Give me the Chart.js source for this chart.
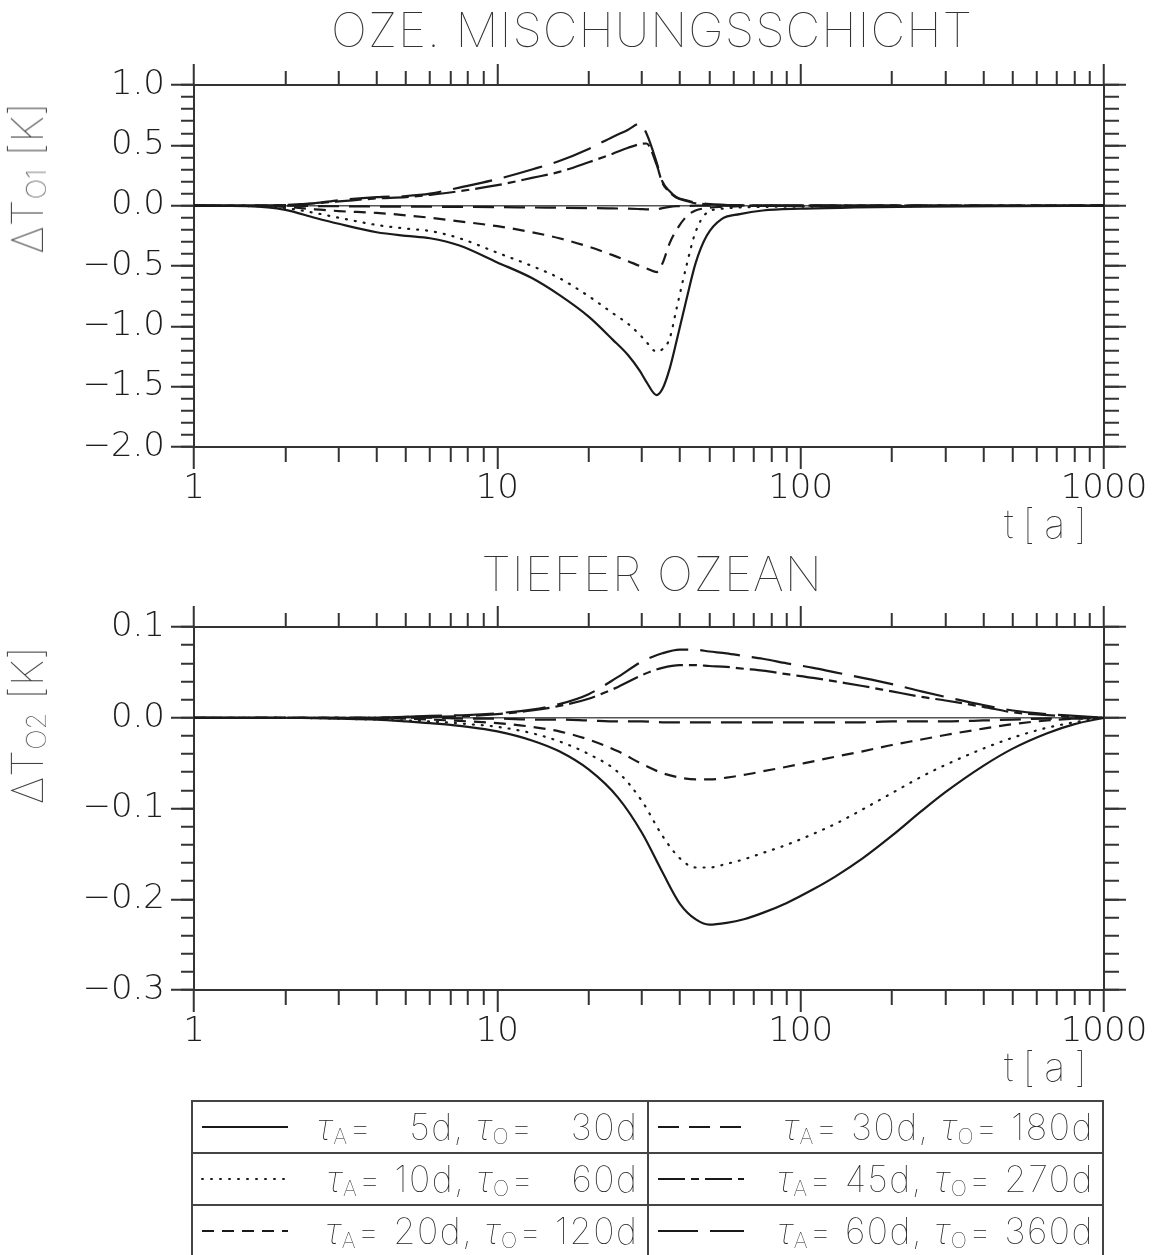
<!DOCTYPE html>
<html>
<head>
<meta charset="utf-8">
<script src="https://cdn.jsdelivr.net/npm/chart.js@4.4.1/dist/chart.umd.min.js"></script>
<style>
  body { margin: 0; background: #fff; }
  #page { position: relative; width: 1158px; height: 1255px; overflow: hidden;
          font-family: Inter, "DejaVu Sans", sans-serif; color: #333; }
  canvas { position: absolute; left: 0; }
  .txt { will-change: transform; -webkit-font-smoothing: antialiased; }
  .title { position: absolute; font-size: 48px; line-height: 48px; font-weight: 100;
           letter-spacing: 1px; white-space: nowrap; transform: translateX(-50%); }
  .ytitle { position: absolute; font-size: 44px; line-height: 44px; font-weight: 100;
            white-space: nowrap; transform: translate(-50%, -50%) rotate(-90deg); }
  .ytitle sub { font-size: 0.62em; vertical-align: -0.12em; }
  .xunit { position: absolute; font-size: 40px; line-height: 40px; font-weight: 100;
           letter-spacing: 9px; white-space: nowrap; }
  table.legend { position: absolute; left: 191px; top: 1100px; width: 913px;
                 border-collapse: collapse; table-layout: fixed; }
  table.legend td { border: 2px solid #444; height: 50px; padding: 0 8px 0 8px; }
  .cell { display: flex; align-items: center; justify-content: space-between;
          font-size: 36px; font-weight: 100; letter-spacing: 1.5px; white-space: pre; color: #222; }
  .cell i { font-style: italic; }
  .cell sub { font-size: 0.6em; vertical-align: -0.2em; }
</style>
</head>
<body>
<div id="page">
  <canvas id="mixed" width="1158" height="560" style="top:0"></canvas>
  <canvas id="deep" width="1158" height="560" style="top:540px"></canvas>
  <div class="title txt" style="left:652px; top:6px">OZE. MISCHUNGSSCHICHT</div>
  <div class="title txt" style="left:652px; top:550px">TIEFER OZEAN</div>
  <div class="ytitle txt" style="left:32px; top:178px">ΔT<sub>O1</sub> [K]</div>
  <div class="ytitle txt" style="left:32px; top:725px">ΔT<sub>O2</sub> [K]</div>
  <div class="xunit txt" style="left:1004px; top:504px">t[a]</div>
  <div class="xunit txt" style="left:1004px; top:1047px">t[a]</div>
  <table class="legend txt"><tbody id="legend"></tbody></table>
</div>
<script>
// time axis (years) for the mixed layer panel
const tMixed = [1, 1.5, 2, 2.5, 3, 4, 5, 6, 7.5, 10, 13, 16, 20, 24, 27, 29.5,
                31, 33.5, 35, 37, 39, 42, 45, 49, 55, 63, 75, 100, 150, 250, 500, 1000];
const mixedTau5 = [0, -0.005, -0.035, -0.10, -0.15, -0.22, -0.25, -0.27, -0.33, -0.47, -0.60, -0.74, -0.92, -1.11, -1.24, -1.37,
                   -1.46, -1.57, -1.52, -1.35, -1.12, -0.78, -0.48, -0.25, -0.11, -0.07, -0.04, -0.025, -0.015, -0.008, -0.003, 0];
const mixedTau10 = [0, -0.003, -0.02, -0.06, -0.10, -0.16, -0.19, -0.21, -0.27, -0.39, -0.50, -0.60, -0.75, -0.89, -0.98, -1.07,
                    -1.13, -1.21, -1.19, -1.10, -0.85, -0.50, -0.22, -0.06, -0.025, -0.015, -0.01, -0.008, -0.005, -0.003, -0.001, 0];
const mixedTau20 = [0, 0, -0.01, -0.03, -0.045, -0.06, -0.08, -0.10, -0.13, -0.17, -0.22, -0.27, -0.34, -0.41, -0.46, -0.50,
                    -0.52, -0.55, -0.48, -0.31, -0.20, -0.09, -0.04, -0.02, -0.01, -0.005, 0, 0, 0, 0, 0, 0];
const mixedTau30 = [0, 0, 0, -0.003, -0.005, -0.007, -0.008, -0.009, -0.01, -0.012, -0.015, -0.017, -0.02, -0.023, -0.025, -0.028,
                    -0.03, -0.03, -0.02, -0.01, -0.005, -0.002, 0, 0, 0, 0, 0, 0, 0, 0, 0, 0];
const mixedTau45 = [0, 0, 0.005, 0.02, 0.035, 0.06, 0.07, 0.09, 0.12, 0.17, 0.23, 0.28, 0.36, 0.43, 0.48, 0.51,
                    0.515, 0.34, 0.19, 0.11, 0.065, 0.04, 0.02, 0.012, 0.006, 0.003, 0, 0, 0, 0, 0, 0];
const mixedTau60 = [0, 0, 0.005, 0.02, 0.045, 0.07, 0.08, 0.10, 0.15, 0.22, 0.30, 0.37, 0.47, 0.57, 0.63, 0.68,
                    0.60, 0.36, 0.20, 0.12, 0.07, 0.045, 0.025, 0.015, 0.007, 0.003, 0, 0, 0, 0, 0, 0];

// time axis (years) for the deep ocean panel
const tDeep = [1, 2, 3, 4, 5, 6, 8, 10, 13, 16, 20, 25, 30, 35, 40, 45,
               50, 57, 65, 75, 90, 110, 130, 160, 200, 250, 300, 400, 500, 650, 800, 1000];
const deepTau5 = [0, 0, -0.001, -0.002, -0.004, -0.006, -0.01, -0.015, -0.025, -0.037, -0.057, -0.088, -0.127, -0.17, -0.205, -0.222,
                  -0.228, -0.226, -0.222, -0.215, -0.204, -0.189, -0.175, -0.155, -0.13, -0.103, -0.082, -0.053, -0.034, -0.017, -0.007, 0];
const deepTau10 = [0, 0, -0.001, -0.002, -0.003, -0.004, -0.007, -0.01, -0.017, -0.026, -0.04, -0.06, -0.092, -0.13, -0.155, -0.165,
                   -0.165, -0.161, -0.156, -0.149, -0.14, -0.128, -0.117, -0.101, -0.083, -0.065, -0.052, -0.034, -0.022, -0.011, -0.005, 0];
const deepTau20 = [0, 0, 0, 0, -0.001, -0.002, -0.004, -0.006, -0.01, -0.015, -0.024, -0.037, -0.051, -0.061, -0.066, -0.068,
                   -0.068, -0.066, -0.063, -0.059, -0.054, -0.048, -0.043, -0.037, -0.03, -0.024, -0.019, -0.012, -0.007, -0.003, -0.001, 0];
const deepTau30 = [0, 0, 0, 0, 0, 0, -0.001, -0.001, -0.002, -0.002, -0.003, -0.004, -0.004, -0.005, -0.005, -0.005,
                   -0.005, -0.005, -0.005, -0.005, -0.005, -0.005, -0.005, -0.005, -0.004, -0.004, -0.004, -0.003, -0.002, -0.001, -0.001, 0];
const deepTau45 = [0, 0, 0, 0, 0.001, 0.001, 0.002, 0.004, 0.008, 0.013, 0.021, 0.034, 0.047, 0.055, 0.058, 0.058,
                   0.057, 0.056, 0.054, 0.052, 0.048, 0.044, 0.04, 0.035, 0.029, 0.023, 0.019, 0.012, 0.006, 0.003, 0.001, 0];
const deepTau60 = [0, 0, 0, 0, 0.001, 0.002, 0.003, 0.005, 0.009, 0.015, 0.026, 0.045, 0.062, 0.071, 0.075, 0.075,
                   0.073, 0.071, 0.068, 0.065, 0.06, 0.055, 0.05, 0.044, 0.037, 0.029, 0.023, 0.014, 0.008, 0.004, 0.002, 0];

const tauA = [5, 10, 20, 30, 45, 60];
const tauO = [30, 60, 120, 180, 270, 360];
const dashes = [[], [1, 8], [12, 8], [21, 10], [27, 6, 8, 6], [40, 12]];

const xMajorTicks = [1, 10, 100, 1000];
const mixedMajorTicks = [-2, -1.5, -1, -0.5, 0, 0.5, 1];
const deepMajorTicks = [-0.3, -0.2, -0.1, 0, 0.1];

const AXIS = '#333';
const LINE = '#1a1a1a';

function range(from, to, step) {
    const out = [];
    for (let k = 0; from + k * step <= to + 1e-9; k++) out.push(+(from + k * step).toFixed(4));
    return out;
}

const xMinorTicks = [];
[1, 10, 100].forEach(d => { for (let m = 2; m <= 9; m++) xMinorTicks.push(m * d); });

function fixSize(size) {
    return scale => {
        if (scale.isHorizontal()) scale.height = size;
        else scale.width = size;
    };
}

function axis(o) {
    return {
        type: o.type,
        axis: o.axis,
        position: o.position,
        weight: o.major ? 1 : 0,
        min: o.min,
        max: o.max,
        afterBuildTicks: scale => { scale.ticks = o.values.map(v => ({ value: v })); },
        afterFit: fixSize(o.size),
        border: { display: !!o.major, color: AXIS, width: 2 },
        grid: {
            drawOnChartArea: !!o.zeroLine,
            color: c => (c.tick && c.tick.value === 0 ? '#555' : 'rgba(0,0,0,0)'),
            lineWidth: 1.5,
            tickLength: o.tick,
            tickWidth: 2,
            tickColor: AXIS
        },
        ticks: {
            display: !!o.labels,
            autoSkip: false,
            maxRotation: 0,
            minRotation: 0,
            padding: o.padding || 0,
            color: '#1e1e1e',
            font: { family: 'DejaVu Sans', size: 34, weight: '200' },
            callback: o.labels || (() => '')
        }
    };
}

function yLabel(v) {
    return (v < 0 ? '\u2212' : '') + Math.abs(v).toFixed(1);
}

function makeChart({ id, t, series, min, max, majorY, minorStep, topSize, bottomSize }) {
    const minorY = range(min, max, minorStep);
    const datasets = series.map((values, i) => ({
        label: `τA=${tauA[i]}d, τO=${tauO[i]}d`,
        data: t.map((x, k) => ({ x: x, y: values[k] })),
        borderColor: LINE,
        borderWidth: 2.2,
        borderDash: dashes[i],
        borderCapStyle: i === 1 ? 'round' : 'butt',
        pointRadius: 0,
        fill: false,
        cubicInterpolationMode: 'monotone',
        xAxisID: 'x',
        yAxisID: 'y'
    }));

    return new Chart(document.getElementById(id), {
        type: 'line',
        data: { datasets: datasets },
        options: {
            responsive: false,
            animation: false,
            layout: { padding: 0 },
            plugins: { legend: { display: false }, tooltip: { enabled: false } },
            scales: {
                x: axis({ type: 'logarithmic', axis: 'x', position: 'bottom', major: true, min: 1, max: 1000,
                          values: xMajorTicks, size: bottomSize, tick: 22, labels: v => String(v), padding: 0 }),
                xMinor: axis({ type: 'logarithmic', axis: 'x', position: 'bottom', min: 1, max: 1000,
                               values: xMinorTicks, size: 0, tick: 15 }),
                xTop: axis({ type: 'logarithmic', axis: 'x', position: 'top', major: true, min: 1, max: 1000,
                             values: xMajorTicks, size: topSize, tick: 21 }),
                xTopMinor: axis({ type: 'logarithmic', axis: 'x', position: 'top', min: 1, max: 1000,
                                  values: xMinorTicks, size: 0, tick: 14 }),
                y: axis({ type: 'linear', axis: 'y', position: 'left', major: true, min: min, max: max,
                          values: majorY, size: 194, tick: 23, labels: yLabel, padding: 6, zeroLine: true }),
                yMinor: axis({ type: 'linear', axis: 'y', position: 'left', min: min, max: max,
                               values: minorY, size: 0, tick: 13 }),
                yRight: axis({ type: 'linear', axis: 'y', position: 'right', major: true, min: min, max: max,
                               values: majorY, size: 54, tick: 22 }),
                yRightMinor: axis({ type: 'linear', axis: 'y', position: 'right', min: min, max: max,
                                    values: minorY, size: 0, tick: 15 })
            }
        }
    });
}

makeChart({
    id: 'mixed', t: tMixed,
    series: [mixedTau5, mixedTau10, mixedTau20, mixedTau30, mixedTau45, mixedTau60],
    min: -2, max: 1, majorY: mixedMajorTicks, minorStep: 0.1,
    topSize: 85, bottomSize: 113
});

makeChart({
    id: 'deep', t: tDeep,
    series: [deepTau5, deepTau10, deepTau20, deepTau30, deepTau45, deepTau60],
    min: -0.3, max: 0.1, majorY: deepMajorTicks, minorStep: 0.02,
    topSize: 87, bottomSize: 110
});

// legend table: two columns of three entries
function pad(n, width) {
    return String(n).padStart(width, '\u2007');
}
const legendBody = document.getElementById('legend');
for (let r = 0; r < 3; r++) {
    const tr = document.createElement('tr');
    [r, r + 3].forEach(i => {
        const td = document.createElement('td');
        const dash = dashes[i].length ? dashes[i].join(' ') : 'none';
        const cap = i === 1 ? 'round' : 'butt';
        td.innerHTML =
            `<div class="cell"><svg width="88" height="10"><line x1="1" y1="5" x2="87" y2="5" stroke="${LINE}" ` +
            `stroke-width="2" stroke-linecap="${cap}" stroke-dasharray="${dash}"/></svg>` +
            `<span><i>τ</i><sub>A</sub>= ${pad(tauA[i], 2)}d, <i>τ</i><sub>O</sub>= ${pad(tauO[i], 3)}d</span></div>`;
        tr.appendChild(td);
    });
    legendBody.appendChild(tr);
}
</script>
</body>
</html>
